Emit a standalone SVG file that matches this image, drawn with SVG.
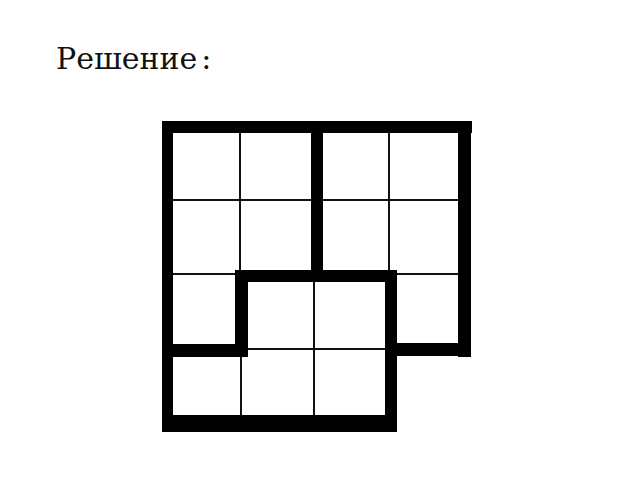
<svg xmlns="http://www.w3.org/2000/svg" width="640" height="480" viewBox="0 0 640 480">
<style>
.thin{stroke:#111;stroke-width:2;fill:none}
.thick{fill:#000}
.title{font-family:"DejaVu Serif","Liberation Serif",serif;font-size:30px;fill:#111}
</style>
<rect width="640" height="480" fill="#fff"/>
<g id="title"><text class="title" x="56" y="69">Решение<tspan dx="4">:</tspan></text></g>
<g id="grid">
<g id="thin-lines">
<line class="thin" x1="240" y1="133" x2="240" y2="271"/>
<line class="thin" x1="241" y1="356" x2="241" y2="416"/>
<line class="thin" x1="389" y1="133" x2="389" y2="271"/>
<line class="thin" x1="314" y1="281" x2="314" y2="416"/>
<line class="thin" x1="172" y1="200" x2="459" y2="200"/>
<line class="thin" x1="172" y1="274" x2="236" y2="274"/>
<line class="thin" x1="396" y1="274" x2="459" y2="274"/>
<line class="thin" x1="247" y1="349" x2="386" y2="349"/>
</g>
<g id="thick-lines">
<rect class="thick" x="162" y="121" width="310" height="12"/>
<rect class="thick" x="162" y="121" width="11" height="311"/>
<rect class="thick" x="458" y="121" width="13" height="236"/>
<rect class="thick" x="162" y="415" width="235" height="17"/>
<rect class="thick" x="311" y="121" width="12" height="160"/>
<rect class="thick" x="235" y="270" width="162" height="12"/>
<rect class="thick" x="235" y="270" width="13" height="87"/>
<rect class="thick" x="162" y="344" width="86" height="13"/>
<rect class="thick" x="385" y="270" width="12" height="162"/>
<rect class="thick" x="385" y="343" width="86" height="13"/>
</g>
</g>
</svg>
